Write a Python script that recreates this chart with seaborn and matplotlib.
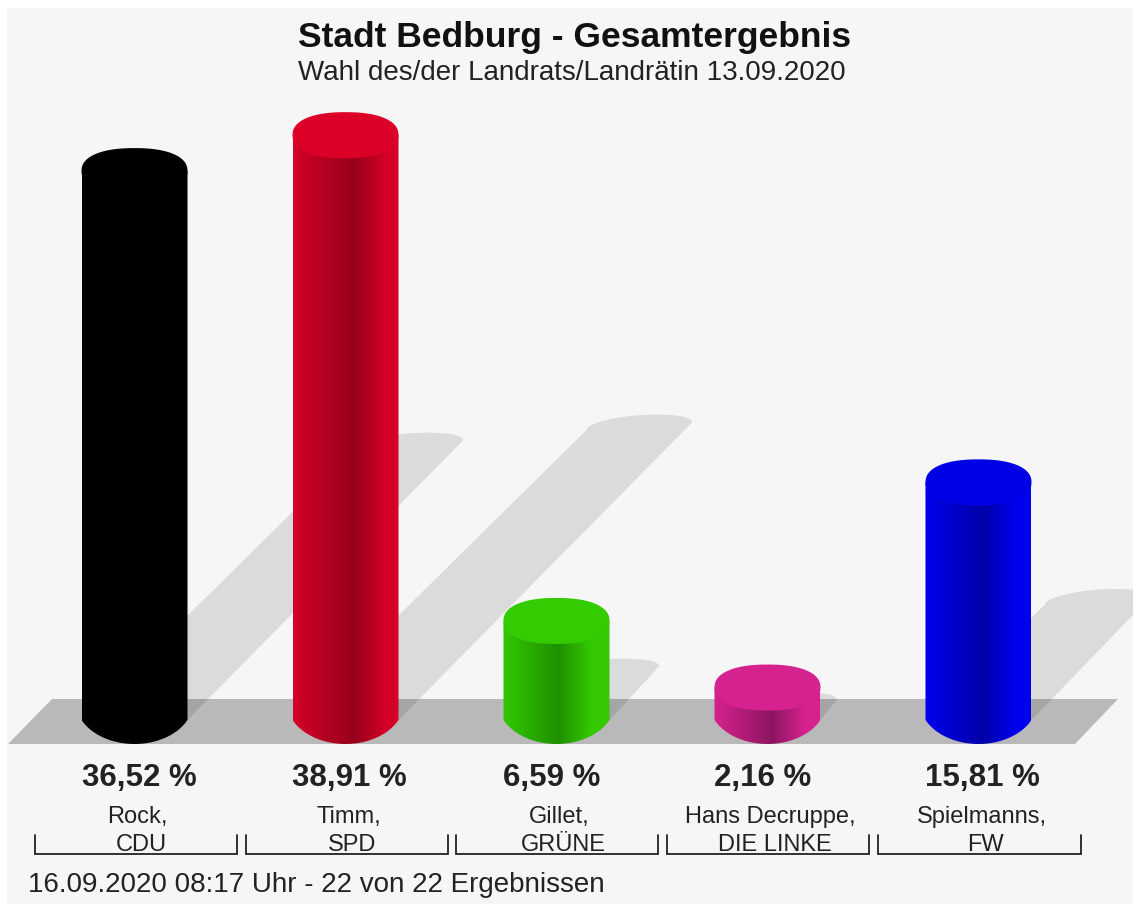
"""
Stadt Bedburg election result, cylinder bars on a grey floor.
"""
import numpy as np
import seaborn as sns
import matplotlib.pyplot as plt
from matplotlib.colors import LinearSegmentedColormap
from matplotlib.patches import Polygon, Rectangle

#****************************************
# Data
names = ["Rock,", "Timm,", "Gillet,", "Hans Decruppe,", "Spielmanns,"]
parties = ["CDU", "SPD", "GRÜNE", "DIE LINKE", "FW"]
shares = [36.52, 38.91, 6.59, 2.16, 15.81]
share_labels = ["36,52 %", "38,91 %", "6,59 %", "2,16 %", "15,81 %"]
tops = ["#000000", "#dc0028", "#33cc00", "#d6228e", "#0000e6"]
edges = ["#000000", "#d40028", "#33c800", "#d6228e", "#0000ee"]
darks = ["#000000", "#98001c", "#1f9000", "#8c1560", "#0000a8"]
dark_at = [0.5, 0.58, 0.52, 0.55, 0.55]

#****************************************
# Axes cover the whole picture; 211 px per candidate, 15.03 px per percent
W, H = 1133, 908
PX = 1 / 211
PY = 1 / 15.03
X0, Y0 = 134.5, 720

sns.set_theme(style="white")
plt.rcParams["font.family"] = ["Liberation Sans", "DejaVu Sans"]

fig = plt.figure(figsize=(W / 100, H / 100), dpi=100, facecolor="white")
ax = fig.add_axes([0, 0, 1, 1])
ax.set_facecolor("white")

def xp(px):
    return (px - X0) * PX

def yp(py):
    return (Y0 - py) * PY

half_w = 53 * PX
top_h = 23 * PY
low_h = 24 * PY
shadow_x = 7.55 * PX
shadow_y = 7.55 * PY
t = np.linspace(0, np.pi, 40)
u = np.linspace(-1, 1, 40)
# shallow arc under the cylinder, meets the sides at a corner
k = 0.9
arc = (np.sqrt(1 - (k * u) ** 2) - np.sqrt(1 - k ** 2)) / (1 - np.sqrt(1 - k ** 2))
# slightly square ellipse for the lid
a = np.linspace(0, 2 * np.pi, 120)
lid_x = np.sign(np.cos(a)) * np.abs(np.cos(a)) ** (2 / 2.3)
lid_y = np.sign(np.sin(a)) * np.abs(np.sin(a)) ** (2 / 2.3)

# page and floor
ax.add_patch(Rectangle((xp(7), yp(904)), xp(1133) - xp(7), yp(8) - yp(904), fc="#f6f6f6", ec="none", zorder=0))
ax.add_patch(Polygon([(xp(8), yp(744)), (xp(1075), yp(744)), (xp(1118), yp(699)), (xp(52), yp(699))],
                     fc="#b9b9b9", ec="none", zorder=1))

# shadows
for i, v in enumerate(shares):
    dx, dy = v * shadow_x, v * shadow_y
    arc_x = i + dx + half_w * np.cos(t)
    arc_y = dy + 11 * PY * np.sin(t) + 4 * PY * np.cos(t)
    pts = np.vstack([[i + half_w, 0], np.column_stack([arc_x, arc_y]), [i - half_w, 0]])
    ax.add_patch(Polygon(pts, fc="black", alpha=0.105, ec="none", zorder=2))

# cylinder bodies
sns.barplot(x=parties, y=shares, hue=parties, palette=edges, width=1.96 * half_w, legend=False,
            saturation=1, linewidth=0, ax=ax, zorder=3)

for i, v in enumerate(shares):
    cmap = LinearSegmentedColormap.from_list(
        "c%d" % i, [(0, edges[i]), (dark_at[i], darks[i]), (min(dark_at[i] + 0.3, 0.95), edges[i]), (1, edges[i])])
    grad = np.linspace(0, 1, 256).reshape(1, -1)
    im = ax.imshow(grad, cmap=cmap, vmin=0, vmax=1, aspect="auto", zorder=4,
                   extent=(i - half_w, i + half_w, -low_h, v))
    body = np.vstack([[i - half_w, v],
                      np.column_stack([i + half_w * u, -low_h * arc]),
                      [i + half_w, v]])
    clip = Polygon(body, transform=ax.transData, fc="none", ec="none")
    ax.add_patch(clip)
    im.set_clip_path(clip)
    ax.add_patch(Polygon(np.column_stack([i + half_w * lid_x, v + top_h * lid_y]),
                         fc=tops[i], ec="none", zorder=5))

ax.set_xlim(xp(0), xp(W))
ax.set_ylim(yp(H), yp(0))
ax.axis("off")

#****************************************
# Text
ax.text(xp(575), yp(38), "Stadt Bedburg - Gesamtergebnis", fontsize=25.5, fontweight="bold",
        color="#111111", ha="center", va="center")
ax.text(xp(571.5), yp(73.5), "Wahl des/der Landrats/Landrätin 13.09.2020", fontsize=20,
        color="#222222", ha="center", va="center")

for i in range(len(shares)):
    ax.text(i - half_w, yp(786), share_labels[i], fontsize=22.5, fontweight="bold", color="#222222",
            ha="left", va="baseline")
    ax.text(i + 3 * PX, yp(823), names[i], fontsize=17, color="#222222", ha="center", va="baseline")
    ax.text(i + 7 * PX, yp(851), parties[i], fontsize=17, color="#222222", ha="center", va="baseline")
    ax.plot([i - 100 * PX, i - 100 * PX, i + 102 * PX, i + 102 * PX],
            [yp(835), yp(854), yp(854), yp(835)], color="#222222", lw=1.3, solid_joinstyle="miter")

ax.text(xp(28), yp(892), "16.09.2020 08:17 Uhr - 22 von 22 Ergebnissen", fontsize=20,
        color="#222222", ha="left", va="baseline")

plt.savefig("out.png", dpi=100)
